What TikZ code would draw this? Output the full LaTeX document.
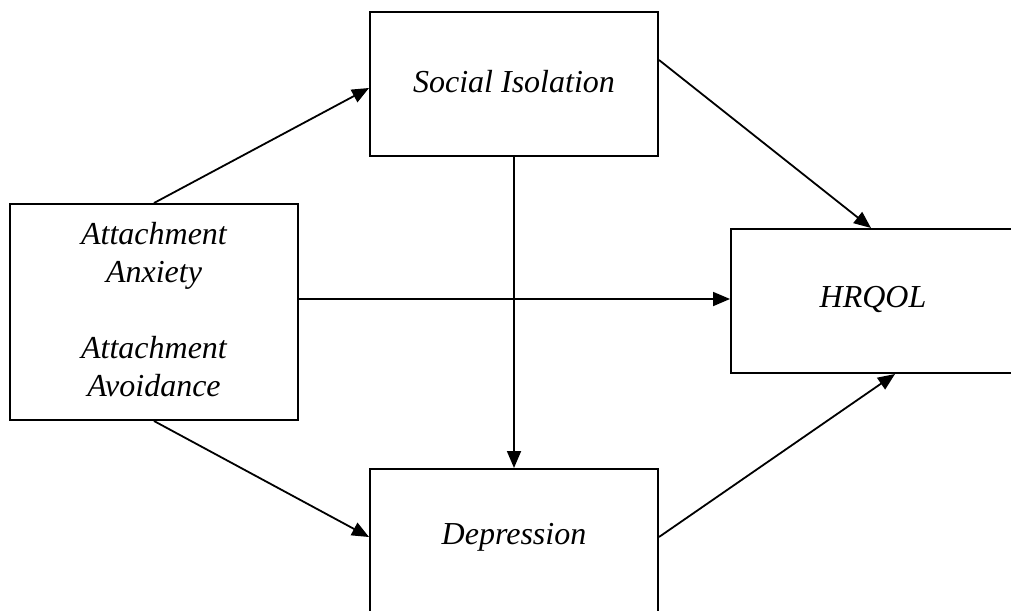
\documentclass[tikz,border=0pt]{standalone}
\usepackage{fontspec}
\setmainfont{Liberation Serif}
\usetikzlibrary{arrows.meta}
\begin{document}
\begin{tikzpicture}[x=1pt,y=-1pt,
  boxnode/.style={draw=black,line width=2pt,fill=white,minimum width=288pt,inner sep=0pt},
  lbl/.style={font=\fontsize{32}{38}\selectfont\itshape,align=center,inner sep=0pt},
  conn/.style={line width=1.8pt,-{Triangle[length=17pt,width=14pt]}}]
\useasboundingbox (0,0) rectangle (1011,610);
\clip (0,0) rectangle (1011,610);
\fill[white] (0,0) rectangle (1011,610);
\node[boxnode,minimum height=144pt] (SI) at (514,84) {};
\node[lbl] (SIt) at (514,82) {Social Isolation};
\node[boxnode,minimum height=216pt] (AA) at (154,312) {};
\node[lbl] (AAt) at (154,310) {Attachment\\Anxiety\\[38pt]Attachment\\Avoidance};
\node[boxnode,minimum width=290pt,minimum height=144pt,anchor=north west] (HR) at (730,228) {};
\node[lbl] (HRt) at (873,299) {HRQOL};
\node[boxnode,minimum height=144pt,anchor=north] (DE) at (514,468) {};
\node[lbl] (DEt) at (514,537) {Depression};
\draw[conn] (AA.north) -- ([yshift=-4pt]SI.west);
\draw[conn] (AA.south) -- (DEt -| DE.west);
\draw[conn] ([yshift=24pt]SI.east) -- ([xshift=-2pt]HR.north -| HRt);
\draw[conn] (SI.south) -- (DE.north);
\draw[conn] (AA.east |- HRt) -- (HR.west |- HRt);
\draw[conn] (DEt -| DE.east) -- ([xshift=22pt]HR.south -| HRt);
\end{tikzpicture}
\end{document}
